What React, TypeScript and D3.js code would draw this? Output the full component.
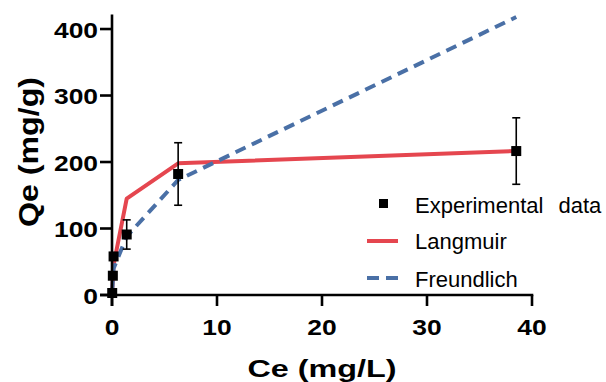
import React from "react";
import * as d3 from "d3";

const ce = [0.02, 0.08, 0.15, 1.4, 6.3, 38.5];
const qe = [3, 29, 58, 91, 182, 216.5];
const qeErr = [0, 0, 0, 22, 47, 50];
const langmuir = [6, 25, 45, 145, 198, 216.5];
const freundlich = [5, 22, 40, 88, 173, 418];
const xTicks = [0, 10, 20, 30, 40];
const yTicks = [0, 100, 200, 300, 400];
const legendLabels = ["Experimental data", "Langmuir", "Freundlich"];

const W = 606;
const H = 382;
const FONT = "'Liberation Sans', Arial, Helvetica, sans-serif";
const RED = "#e5464f";
const BLUE = "#4a70a6";

export default function App() {
  const x = d3.scaleLinear().domain([0, 40]).range([112, 532]);
  const y = d3.scaleLinear().domain([0, 422]).range([295, 14.4]);

  const line = d3
    .line<number>()
    .x((_, i) => x(ce[i]))
    .y((d) => y(d));

  const axisW = 2.6;

  return (
    <svg
      width={W}
      height={H}
      style={{ position: "absolute", left: 0, top: 0, background: "#fff" }}
      fontFamily={FONT}
    >
      {/* fitted lines */}
      <path d={line(langmuir) || ""} fill="none" stroke={RED} strokeWidth={4} strokeLinejoin="round" />
      <path
        d={line(freundlich) || ""}
        fill="none"
        stroke={BLUE}
        strokeWidth={4}
        strokeDasharray="11,7"
      />

      {/* error bars */}
      {ce.map((c, i) =>
        qeErr[i] > 0 ? (
          <g key={"e" + i} stroke="#000" strokeWidth={1.6}>
            <line x1={x(c)} x2={x(c)} y1={y(qe[i] - qeErr[i])} y2={y(qe[i] + qeErr[i])} />
            <line x1={x(c) - 4} x2={x(c) + 4} y1={y(qe[i] + qeErr[i])} y2={y(qe[i] + qeErr[i])} />
            <line x1={x(c) - 4} x2={x(c) + 4} y1={y(qe[i] - qeErr[i])} y2={y(qe[i] - qeErr[i])} />
          </g>
        ) : null
      )}

      {/* axes */}
      <line x1={112} x2={112} y1={y(422)} y2={306} stroke="#000" strokeWidth={axisW} />
      <line x1={100} x2={x(40) + axisW / 2} y1={295} y2={295} stroke="#000" strokeWidth={axisW} />
      {yTicks.map((t) => (
        <g key={"yt" + t}>
          <line x1={100} x2={112} y1={y(t)} y2={y(t)} stroke="#000" strokeWidth={axisW} />
          <text
            transform={`translate(98,${y(t) + 8.5}) scale(1.2,1)`}
            textAnchor="end"
            fontSize={22}
            fontWeight="bold"
            fill="#000"
          >
            {t}
          </text>
        </g>
      ))}
      {xTicks.map((t) => (
        <g key={"xt" + t}>
          <line x1={x(t)} x2={x(t)} y1={295} y2={306} stroke="#000" strokeWidth={axisW} />
          <text
            transform={`translate(${x(t)},335) scale(1.2,1)`}
            textAnchor="middle"
            fontSize={22}
            fontWeight="bold"
            fill="#000"
          >
            {t}
          </text>
        </g>
      ))}

      {/* markers */}
      {ce.map((c, i) => (
        <rect key={"m" + i} x={x(c) - 5} y={y(qe[i]) - 5} width={10} height={10} fill="#000" />
      ))}

      {/* axis titles */}
      <text
        x={322}
        y={377}
        textAnchor="middle"
        fontSize={24}
        fontWeight="bold"
        textLength={149}
        lengthAdjust="spacingAndGlyphs"
      >
        Ce (mg/L)
      </text>
      <text
        transform="translate(38,152) rotate(-90)"
        textAnchor="middle"
        fontSize={28}
        fontWeight="bold"
        textLength={150}
        lengthAdjust="spacingAndGlyphs"
      >
        Qe (mg/g)
      </text>

      {/* legend */}
      <rect x={379} y={199} width={9} height={9} fill="#000" />
      <line x1={367} x2={398} y1={241} y2={241} stroke={RED} strokeWidth={4} />
      <line x1={367} x2={398} y1={278} y2={278} stroke={BLUE} strokeWidth={4} strokeDasharray="12,7" />
      <text x={415} y={212.7} fontSize={22} wordSpacing={9}>
        {legendLabels[0]}
      </text>
      <text x={415} y={249.3} fontSize={22}>
        {legendLabels[1]}
      </text>
      <text x={415} y={286.7} fontSize={22}>
        {legendLabels[2]}
      </text>
    </svg>
  );
}
